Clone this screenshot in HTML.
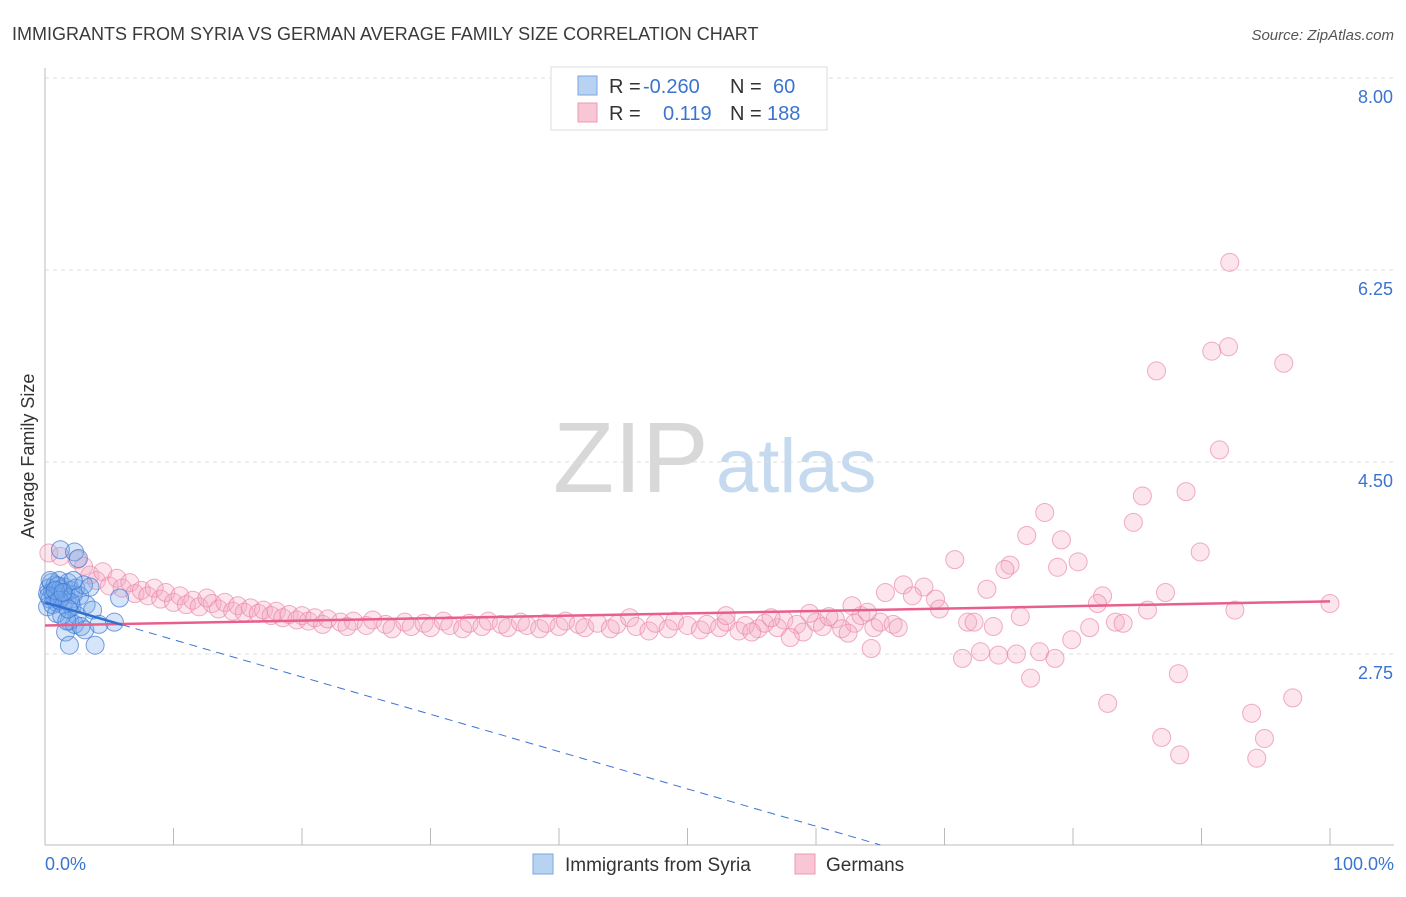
<!DOCTYPE html>
<html><head><meta charset="utf-8"><style>
body{margin:0;background:#fff;font-family:"Liberation Sans",sans-serif;}
svg text{font-family:"Liberation Sans",sans-serif;}
</style></head><body>
<svg id="c" width="1406" height="892" xmlns="http://www.w3.org/2000/svg">
<text x="12" y="40" font-size="18" fill="#3a3a3a">IMMIGRANTS FROM SYRIA VS GERMAN AVERAGE FAMILY SIZE CORRELATION CHART</text>
<text x="1394" y="40" font-size="15" fill="#555" text-anchor="end" font-style="italic">Source: ZipAtlas.com</text>
<g>
<text x="553" y="492" font-size="100" fill="#d8d8d8" font-family="Liberation Serif">ZIP</text>
<text x="716" y="492" font-size="76" fill="#c5d9ef">atlas</text>
</g>
<g id="grid"></g>
<g id="axes"></g>
<g id="pinkPts"></g>
<g id="bluePts"></g>
<g id="trends"></g>
<text x="34" y="456" font-size="18" fill="#333" text-anchor="middle" transform="rotate(-90 34 456)">Average Family Size</text>
<text x="45" y="870" font-size="18" fill="#3b74d0">0.0%</text>
<text x="1394" y="870" font-size="18" fill="#3b74d0" text-anchor="end">100.0%</text>
<g>
<rect x="551" y="67" width="276" height="63" fill="#fff" stroke="#ddd"/>
<rect x="578" y="76" width="19" height="19" fill="#b8d2f2" stroke="#7aa6e0"/>
<rect x="578" y="103" width="19" height="19" fill="#f8c6d4" stroke="#eb9ab1"/>
<text x="609" y="93" font-size="20" fill="#333">R =</text>
<text x="643" y="93" font-size="20" fill="#3b74d0">-0.260</text>
<text x="730" y="93" font-size="20" fill="#333">N =</text>
<text x="773" y="93" font-size="20" fill="#3b74d0">60</text>
<text x="609" y="120" font-size="20" fill="#333">R =</text>
<text x="663" y="120" font-size="20" fill="#3b74d0">0.119</text>
<text x="730" y="120" font-size="20" fill="#333">N =</text>
<text x="767" y="120" font-size="20" fill="#3b74d0">188</text>
</g>
<g>
<rect x="533" y="854" width="20" height="20" fill="#b8d2f2" stroke="#7aa6e0"/>
<text x="565" y="871" font-size="19" fill="#333">Immigrants from Syria</text>
<rect x="795" y="854" width="20" height="20" fill="#f8c6d4" stroke="#eb9ab1"/>
<text x="826" y="871" font-size="19" fill="#333">Germans</text>
</g>
</svg>
<script>
const yTicks=[8.00,6.25,4.50,2.75];
const yTickLabels=["8.00","6.25","4.50","2.75"];
const xTicks=[0,10,20,30,40,50,60,70,80,90,100];
const pinkX=[0.3,1.2,2.5,3.0,3.5,4.0,4.5,5.0,5.6,6.0,6.6,7.0,7.5,8.0,8.5,9.0,9.4,10.0,10.5,11.0,11.5,12.0,12.6,13.0,13.5,14.0,14.6,15.0,15.5,16.0,16.6,17.0,17.6,18.0,18.5,19.0,19.6,20.0,20.5,21.0,21.6,22.0,23.0,23.5,24.0,25.0,25.5,26.5,27.0,28.0,28.5,29.5,30.0,31.0,31.5,32.5,33.0,34.0,34.5,35.5,36.0,37.0,37.5,38.5,39.0,40.0,40.5,41.5,42.0,43.0,44.0,44.5,45.5,46.0,47.0,47.5,48.5,49.0,50.0,51.0,51.5,52.5,53.0,54.0,54.5,55.5,56.0,57.0,57.5,58.5,59.0,60.0,60.5,61.5,62.0,63.0,63.5,64.5,65.0,53.0,56.5,59.5,61.0,64.0,55.0,58.0,62.5,66.0,
92.2,90.8,92.1,96.4,86.5,91.4,88.8,85.4,77.8,84.7,76.4,79.1,89.9,70.8,75.1,80.4,78.8,74.7,65.4,66.8,68.4,73.3,82.3,87.2,67.5,69.3,100,92.6,85.8,81.9,75.9,71.8,72.3,73.8,81.3,83.3,83.9,79.9,77.4,78.6,75.6,72.8,71.4,74.2,76.7,88.2,97.1,82.7,93.9,94.9,86.9,88.3,94.3,64.3,62.8,66.4,69.6];
const pinkY=[3.67,3.64,3.61,3.55,3.47,3.42,3.50,3.37,3.44,3.35,3.40,3.30,3.33,3.28,3.35,3.25,3.31,3.22,3.28,3.20,3.24,3.18,3.26,3.21,3.16,3.22,3.14,3.19,3.13,3.17,3.12,3.15,3.10,3.14,3.08,3.11,3.06,3.10,3.05,3.08,3.02,3.07,3.04,3.00,3.05,3.01,3.06,3.02,2.98,3.04,3.00,3.03,2.99,3.05,3.01,2.98,3.03,3.00,3.05,3.02,2.99,3.04,3.01,2.98,3.03,3.00,3.05,3.02,2.99,3.03,2.98,3.02,3.08,3.00,2.96,3.03,2.98,3.05,3.01,2.97,3.02,2.99,3.04,2.96,3.01,2.98,3.03,2.99,3.06,3.02,2.95,3.04,3.00,3.07,2.98,3.03,3.10,2.99,3.04,3.10,3.08,3.12,3.09,3.13,2.95,2.90,2.94,3.02,
6.32,5.51,5.55,5.40,5.33,4.61,4.23,4.19,4.04,3.95,3.83,3.79,3.68,3.61,3.56,3.59,3.54,3.52,3.31,3.38,3.36,3.34,3.28,3.31,3.28,3.25,3.21,3.15,3.15,3.21,3.09,3.04,3.04,3.00,2.99,3.04,3.03,2.88,2.77,2.71,2.75,2.77,2.71,2.74,2.53,2.57,2.35,2.30,2.21,1.98,1.99,1.83,1.80,2.80,3.19,2.99,3.16];
const blueX=[0.2,0.3,0.4,0.5,0.6,0.7,0.8,0.9,1.0,1.1,1.2,1.2,1.3,1.4,1.5,1.6,1.6,1.7,1.8,1.9,1.9,2.0,2.1,2.2,2.3,2.3,2.4,2.5,2.6,2.7,2.8,3.0,3.1,3.2,3.5,3.7,3.9,4.2,5.4,5.8,0.2,0.4,0.6,0.9,1.0,1.3,1.7,2.0,2.2,0.3,0.8,1.1,1.4,1.8];
const blueY=[3.30,3.35,3.25,3.40,3.32,3.28,3.38,3.22,3.30,3.42,3.34,3.70,3.27,3.20,3.36,3.31,2.95,3.25,3.40,2.83,3.05,3.33,3.18,3.29,3.68,3.02,3.35,3.10,3.62,3.28,3.00,3.38,2.97,3.20,3.36,3.15,2.83,3.02,3.04,3.26,3.18,3.42,3.20,3.12,3.37,3.10,3.05,3.22,3.42,3.28,3.33,3.24,3.31,3.16];
const pinkTrend=[3.01,3.23];
const blueTrend=[3.22,-0.034];
const NS='http://www.w3.org/2000/svg';
function X(p){return 45+p*12.85;}
function Y(v){return 78+(8-v)*109.71;}
function mk(t,a,parent){const e=document.createElementNS(NS,t);for(const k in a)e.setAttribute(k,a[k]);parent.appendChild(e);return e;}
const grid=document.getElementById('grid'),axes=document.getElementById('axes');
yTicks.forEach((v,i)=>{
 const l=mk('line',{x1:45,x2:1394,y1:Y(v),y2:Y(v),stroke:'#ddd','stroke-dasharray':'4,4'},grid);
 
 
 const t=mk('text',{x:1393,y:Y(v)+25,'font-size':18,fill:'#3b74d0','text-anchor':'end'},grid);
 t.textContent=yTickLabels[i];
 
 
});
const ax=mk('line',{x1:45,x2:1394,y1:845,y2:845,stroke:'#bbb'},axes);


const ay=mk('line',{x1:45,x2:45,y1:68,y2:845,stroke:'#bbb'},axes);


xTicks.forEach(p=>{const t=mk('line',{x1:X(p),x2:X(p),y1:828,y2:845,stroke:'#bbb'},axes);
 
 });
const pg=document.getElementById('pinkPts');
pinkX.forEach((p,i)=>{const c=mk('circle',{cx:X(p),cy:Y(pinkY[i]),r:9,fill:'rgba(244,170,195,0.3)',stroke:'rgba(232,130,165,0.65)','stroke-width':1},pg);
 
 });
const bg=document.getElementById('bluePts');
blueX.forEach((p,i)=>{const c=mk('circle',{cx:X(p),cy:Y(blueY[i]),r:9,fill:'rgba(120,170,235,0.3)',stroke:'rgba(60,120,210,0.7)','stroke-width':1},bg);
 
 });
const tg=document.getElementById('trends');
const pt=mk('line',{x1:X(0),y1:Y(pinkTrend[0]),x2:X(100),y2:Y(pinkTrend[1]),stroke:'#e8608a','stroke-width':2.5},tg);


const bEnd=(1.01-blueTrend[0])/blueTrend[1];
const bs=mk('line',{x1:X(0),y1:Y(blueTrend[0]),x2:X(6),y2:Y(blueTrend[0]+blueTrend[1]*6),stroke:'#2f6fd0','stroke-width':2.5},tg);


const bd=mk('line',{x1:X(6),y1:Y(blueTrend[0]+blueTrend[1]*6),x2:X(bEnd),y2:Y(blueTrend[0]+blueTrend[1]*bEnd),stroke:'#3b74d0','stroke-width':1,'stroke-dasharray':'8,6'},tg);


</script>
</body></html>
